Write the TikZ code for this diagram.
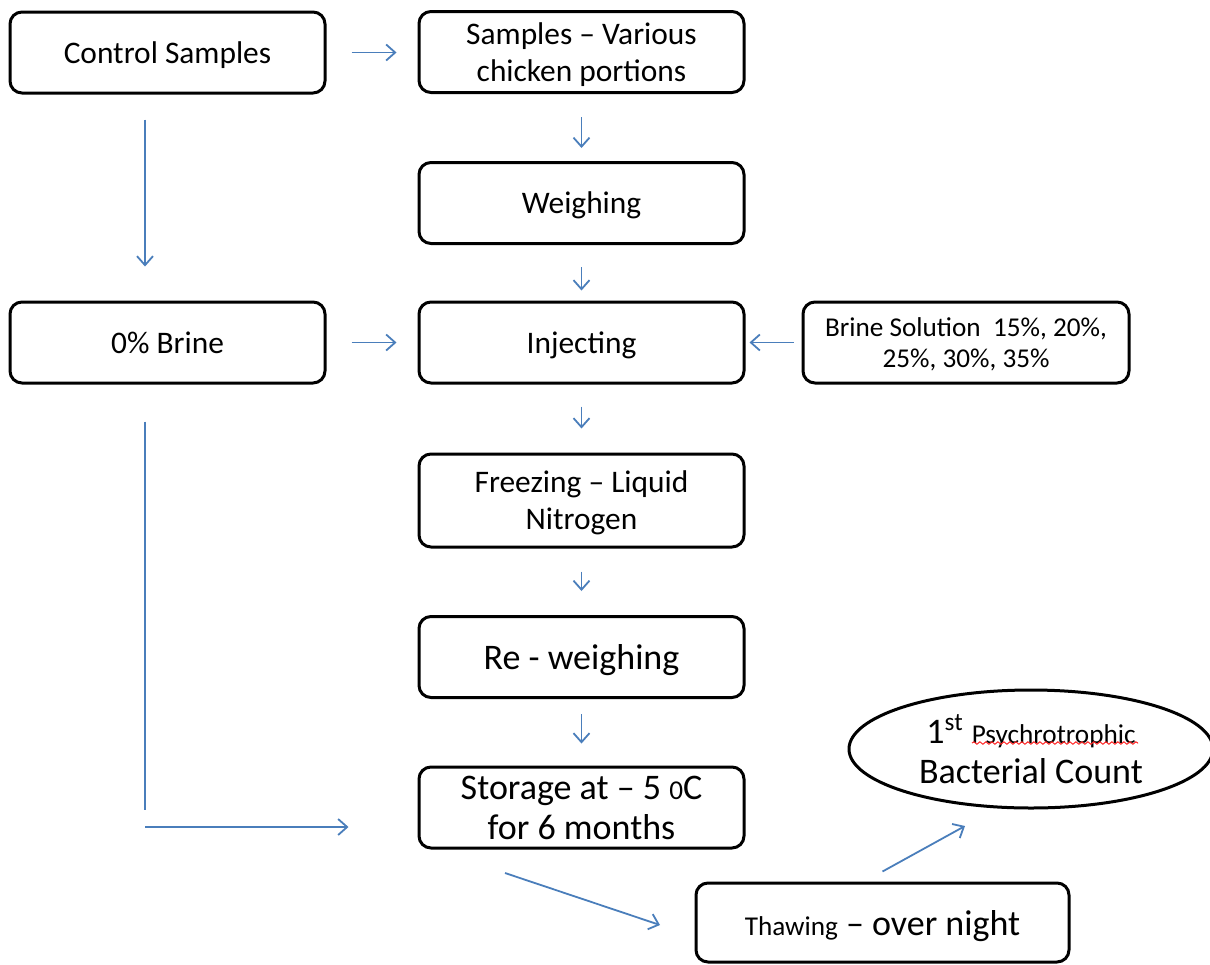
\documentclass[tikz,border=0pt]{standalone}
\usepackage{fontspec}
\setmainfont{Carlito}
\usetikzlibrary{arrows.meta,shapes.geometric,decorations.pathmorphing}
\definecolor{arrblue}{HTML}{4A7EBB}
\newcommand\bigf{\fontsize{18}{20}\selectfont}
\newcommand\smallf{\fontsize{13.6}{15.5}\selectfont}
\tikzset{
 box/.style={draw=black, line width=1.5pt, rounded corners=6pt, minimum width=162.5pt, minimum height=40.5pt, inner sep=0pt, text depth=0pt, align=center, font=\fontsize{15.7}{18.5}\selectfont},
 flow/.style={draw=arrblue, line width=0.9pt, -{Straight Barb[length=4.5pt,width=8pt,line width=0.9pt]}},
 plain/.style={draw=arrblue, line width=0.9pt},
}
\begin{document}
\begin{tikzpicture}[x=0.5pt,y=-0.5pt]
\useasboundingbox (0,0) rectangle (1210,964);
\node[box, minimum width=157.5pt] (cs) at (167.5,52.5) {Control Samples};
\node[box] (svc) at (581.5,52) {Samples – Various\\chicken portions};
\node[box] (wg) at (581.5,203) {Weighing};
\node[box, minimum width=157.5pt] (br0) at (167.5,342.5) {0\% Brine};
\node[box] (inj) at (581.5,342.5) {Injecting};
\node[box, minimum width=163pt, font=\smallf] (bs) at (966,342.5) {Brine Solution~~15\%, 20\%,\\25\%, 30\%, 35\%};
\node[box, minimum height=46.5pt] (frz) at (581.5,500.5) {Freezing – Liquid\\Nitrogen};
\node[box, font=\bigf] (rew) at (581.5,657) {Re - weighing};
\node[box, font=\bigf] (sto) at (581.5,807.5) {Storage at – 5 {\smallf 0}C\\for 6 months};
\node[box, minimum width=186.5pt, minimum height=39.5pt, font=\bigf] (thw) at (882.5,922.5) {{\smallf Thawing} – over night};
\node[draw, ellipse, line width=1.5pt, minimum width=182pt, minimum height=59pt, inner sep=0pt, align=center, font=\bigf] (ell) at (1031,749) {1\textsuperscript{st} {\smallf Psychrotrophic}\\Bacterial Count};
\draw[red!85, line width=0.5pt, decorate, decoration={snake, amplitude=0.6pt, segment length=3pt}] (972,743) -- (1138,743);
% connectors
\draw[flow, shorten <=12.5pt, shorten >=10.5pt] (cs.east) -- (cs.east -| svc.west);
\draw[flow, shorten <=11.5pt, shorten >=6.5pt] (svc.south) -- (wg.north);
\draw[flow, shorten <=12.5pt, shorten >=17pt] ([xshift=-11.25pt]cs.south) -- ([xshift=-11.25pt]br0.north);
\draw[flow, shorten <=11pt, shorten >=5pt] (wg.south) -- (inj.north);
\draw[flow, shorten <=12.5pt, shorten >=10.5pt] (br0.east) -- (inj.west);
\draw[flow, shorten <=4pt, shorten >=2pt] (bs.west) -- (inj.east);
\draw[flow, shorten <=11pt, shorten >=12pt] (inj.south) -- (frz.north);
\draw[flow, shorten <=11.5pt, shorten >=12pt] (frz.south) -- (rew.north);
\draw[flow, shorten <=7.5pt, shorten >=11pt] (rew.south) -- (sto.north);
\coordinate (v1) at (145,810);
\draw[plain, shorten <=18.5pt] ([xshift=-11.25pt]br0.south) -- (v1);
\coordinate (h0) at (145,827);
\draw[flow, shorten >=34.5pt] (h0) -- (h0 -| sto.west);
\coordinate (d0) at (505,873);
\coordinate (d1) at (660,925);
\draw[flow] (d0) -- (d1);
\coordinate (e1) at (965,826);
\draw[flow] ([yshift=5pt]thw.north) -- (e1);
\end{tikzpicture}
\end{document}
